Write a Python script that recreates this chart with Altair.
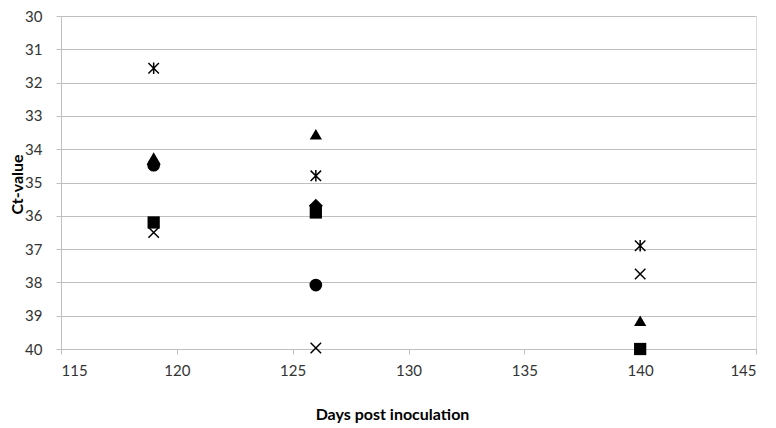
import altair as alt
import pandas as pd

days = [119, 126, 140]
series_names = ["Diamond", "Square", "Triangle", "X", "Asterisk", "Circle"]
diamond_vals = [34.45, 35.7, None]
square_vals = [36.2, 35.9, 40.0]
triangle_vals = [34.25, 33.55, 39.15]
x_vals = [36.5, 39.97, 37.75]
asterisk_vals = [31.57, 34.8, 36.9]
circle_vals = [34.48, 38.08, None]

all_vals = [diamond_vals, square_vals, triangle_vals, x_vals, asterisk_vals, circle_vals]
rows = []
for name, vals in zip(series_names, all_vals):
    for d, v in zip(days, vals):
        if v is not None:
            rows.append({"series": name, "day": d, "ct": v})
df = pd.DataFrame(rows)

x_scale = alt.Scale(domain=[115, 145], nice=False)
y_scale = alt.Scale(domain=[30, 40], reverse=True, nice=False)

x_axis = alt.Axis(values=[115, 120, 125, 130, 135, 140, 145], grid=False, title="Days post inoculation",
                  domainColor="#bfbfbf", tickColor="#bfbfbf", tickSize=5, labelPadding=9,
                  labelFont="Lato", labelFontSize=15, labelColor="#333333",
                  titleFont="Lato", titleFontSize=16, titleFontWeight="bold", titlePadding=28,
                  titleColor="#000000", titleX=331, titleAlign="center", titleAnchor="start")
y_axis = alt.Axis(values=list(range(30, 41)), grid=True, gridColor="#bfbfbf", title="Ct-value",
                  domainColor="#bfbfbf", tickColor="#bfbfbf", tickSize=5, labelPadding=14,
                  labelFont="Lato", labelFontSize=15, labelColor="#333333",
                  titleFont="Lato", titleFontSize=16, titleFontWeight="bold",
                  titleX=-44, titleY=168, titleBaseline="middle", titleAlign="center", titleAngle=270,
                  titleColor="#000000")

base = alt.Chart(df).encode(
    x=alt.X("day:Q", scale=x_scale, axis=x_axis),
    y=alt.Y("ct:Q", scale=y_scale, axis=y_axis),
)

def filled(name, shape, size):
    return base.transform_filter(alt.datum.series == name).mark_point(
        shape=shape, filled=True, color="black", size=size, opacity=1)

def stroked(name, shape, size):
    return base.transform_filter(alt.datum.series == name).mark_point(
        shape=shape, filled=False, stroke="black", strokeWidth=1.5, size=size, opacity=1)

X_PATH = "M-1,-1L1,1M-1,1L1,-1"
AST_PATH = "M-1,-1L1,1M-1,1L1,-1M0,-1.1L0,1.1"

chart = alt.layer(
    filled("Diamond", "diamond", 200),
    filled("Square", "square", 150),
    filled("Triangle", "triangle-up", 150),
    stroked("X", X_PATH, 110),
    stroked("Asterisk", AST_PATH, 110),
    filled("Circle", "circle", 160),
).properties(
    width=695, height=333,
    autosize=alt.AutoSizeParams(type="none"),
    padding={"left": 53, "top": 8, "right": 12, "bottom": 79},
).configure_view(stroke=None).configure(background="white")

chart.save("out.html", embed_options={"renderer": "svg", "actions": False})
